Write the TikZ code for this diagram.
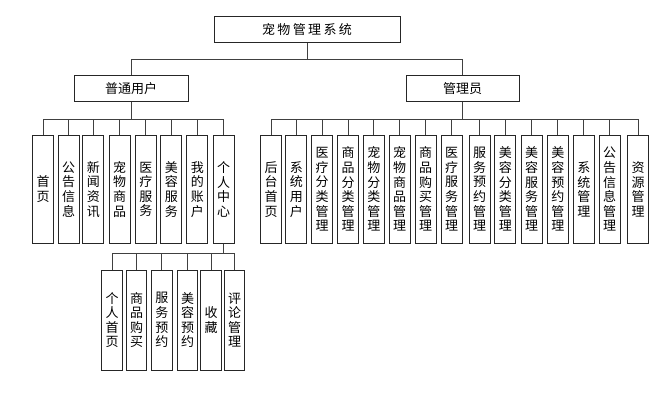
\documentclass[tikz,border=0pt]{standalone}
\usepackage{fontspec}
\usepackage{tikz}
\newfontfamily\cjk{Noto Sans CJK SC}
\newfontfamily\cjkwide[LetterSpace=18]{Noto Sans CJK SC}

\begin{document}
\begin{tikzpicture}[x=1pt,y=-1pt,
  box/.style={draw=black!85,line width=1pt,fill=white,inner sep=0pt,
    font=\cjk\fontsize{13}{14.6}\selectfont},
  head/.style={box,minimum height=26pt},
  leaf/.style={box,minimum width=21pt,minimum height=107.5pt,align=center},
  subleaf/.style={box,minimum width=20.5pt,minimum height=100pt,align=center},
  link/.style={draw=black!75,line width=0.9pt}]
  \useasboundingbox (0,0) rectangle (669,401);
  % top levels
  \node[head,minimum width=186pt,font=\cjkwide\fontsize{13}{14.6}\selectfont] (sys) at (307,30) {宠物管理系统};
  \node[head,minimum width=114pt] (user) at (131,89) {普通用户};
  \node[head,minimum width=113pt] (admin) at (462.5,89) {管理员};
  % ordinary user
  \node[leaf] (u1) at (43,189.3) {首\\页};
  \node[leaf] (u2) at (68.7,189.3) {公\\告\\信\\息};
  \node[leaf] (u3) at (93.3,189.3) {新\\闻\\资\\讯};
  \node[leaf] (u4) at (119.7,189.3) {宠\\物\\商\\品};
  \node[leaf] (u5) at (145.8,189.3) {医\\疗\\服\\务};
  \node[leaf] (u6) at (171.3,189.3) {美\\容\\服\\务};
  \node[leaf] (u7) at (197.3,189.3) {我\\的\\账\\户};
  \node[leaf] (u8) at (223.7,189.3) {个\\人\\中\\心};
  % personal center
  \node[subleaf] (p1) at (112.2,320) {个\\人\\首\\页};
  \node[subleaf] (p2) at (136.5,320) {商\\品\\购\\买};
  \node[subleaf] (p3) at (161.8,320) {服\\务\\预\\约};
  \node[subleaf] (p4) at (187.5,320) {美\\容\\预\\约};
  \node[subleaf] (p5) at (211,320) {收\\藏};
  \node[subleaf] (p6) at (234.7,320) {评\\论\\管\\理};
  % administrator
  \node[leaf] (a1) at (271.2,189.3) {后\\台\\首\\页};
  \node[leaf] (a2) at (296.3,189.3) {系\\统\\用\\户};
  \node[leaf] (a3) at (322.2,189.3) {医\\疗\\分\\类\\管\\理};
  \node[leaf] (a4) at (348,189.3) {商\\品\\分\\类\\管\\理};
  \node[leaf] (a5) at (373.8,189.3) {宠\\物\\分\\类\\管\\理};
  \node[leaf] (a6) at (399.7,189.3) {宠\\物\\商\\品\\管\\理};
  \node[leaf] (a7) at (425.5,189.3) {商\\品\\购\\买\\管\\理};
  \node[leaf] (a8) at (451.7,189.3) {医\\疗\\服\\务\\管\\理};
  \node[leaf] (a9) at (479.5,189.3) {服\\务\\预\\约\\管\\理};
  \node[leaf] (a10) at (505.3,189.3) {美\\容\\分\\类\\管\\理};
  \node[leaf] (a11) at (531.5,189.3) {美\\容\\服\\务\\管\\理};
  \node[leaf] (a12) at (557.8,189.3) {美\\容\\预\\约\\管\\理};
  \node[leaf] (a13) at (583.8,189.3) {系\\统\\管\\理};
  \node[leaf] (a14) at (609.7,189.3) {公\\告\\信\\息\\管\\理};
  \node[leaf] (a15) at (638,189.3) {资\\源\\管\\理};

  \path[link] (sys.south) -- ++(0,16) -| (user.north);
  \path[link] (sys.south) -- ++(0,16) -| (admin.north);

  \path[link] (user.south) -- ++(0,17) -| (u1.north);
  \path[link] (user.south) -- ++(0,17) -| (u2.north);
  \path[link] (user.south) -- ++(0,17) -| (u3.north);
  \path[link] (user.south) -- ++(0,17) -| (u4.north);
  \path[link] (user.south) -- ++(0,17) -| (u5.north);
  \path[link] (user.south) -- ++(0,17) -| (u6.north);
  \path[link] (user.south) -- ++(0,17) -| (u7.north);
  \path[link] (user.south) -- ++(0,17) -| (u8.north);

  \path[link] (u8.south) -- ++(0,9.7) -| (p1.north);
  \path[link] (u8.south) -- ++(0,9.7) -| (p2.north);
  \path[link] (u8.south) -- ++(0,9.7) -| (p3.north);
  \path[link] (u8.south) -- ++(0,9.7) -| (p4.north);
  \path[link] (u8.south) -- ++(0,9.7) -| (p5.north);
  \path[link] (u8.south) -- ++(0,9.7) -| (p6.north);

  \path[link] (admin.south) -- ++(0,17) -| (a1.north);
  \path[link] (admin.south) -- ++(0,17) -| (a2.north);
  \path[link] (admin.south) -- ++(0,17) -| (a3.north);
  \path[link] (admin.south) -- ++(0,17) -| (a4.north);
  \path[link] (admin.south) -- ++(0,17) -| (a5.north);
  \path[link] (admin.south) -- ++(0,17) -| (a6.north);
  \path[link] (admin.south) -- ++(0,17) -| (a7.north);
  \path[link] (admin.south) -- ++(0,17) -| (a8.north);
  \path[link] (admin.south) -- ++(0,17) -| (a9.north);
  \path[link] (admin.south) -- ++(0,17) -| (a10.north);
  \path[link] (admin.south) -- ++(0,17) -| (a11.north);
  \path[link] (admin.south) -- ++(0,17) -| (a12.north);
  \path[link] (admin.south) -- ++(0,17) -| (a13.north);
  \path[link] (admin.south) -- ++(0,17) -| (a14.north);
  \path[link] (admin.south) -- ++(0,17) -| (a15.north);
\end{tikzpicture}
\end{document}
